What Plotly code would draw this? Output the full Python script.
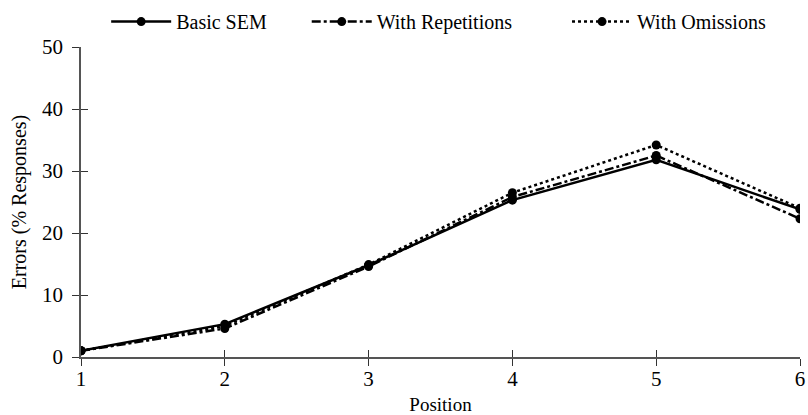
import plotly.graph_objects as go

positions = [1, 2, 3, 4, 5, 6]
basic_sem = [1.0, 5.3, 14.8, 25.3, 31.8, 23.8]
with_repetitions = [1.0, 4.6, 14.6, 25.8, 32.5, 22.3]
with_omissions = [1.0, 5.0, 14.9, 26.5, 34.2, 24.0]
y_ticks = [0, 10, 20, 30, 40, 50]

font_family = "Liberation Serif, Times New Roman, serif"
NBSP = "\u00a0"

fig = go.Figure()
series = [
    ("Basic SEM" + NBSP * 7, basic_sem, "solid"),
    ("With Repetitions" + NBSP * 10, with_repetitions, "dashdot"),
    ("With Omissions", with_omissions, "dot"),
]
for name, values, dash in series:
    fig.add_trace(go.Scatter(
        x=positions, y=values, name=name, mode="lines+markers",
        line=dict(color="black", width=2.5, dash=dash),
        marker=dict(color="black", size=9, symbol="circle"),
    ))

# invisible trace on overlay axes so inner tick marks are drawn
fig.add_trace(go.Scatter(x=[1], y=[0], xaxis="x2", yaxis="y2",
                         mode="markers", marker=dict(opacity=0),
                         showlegend=False, hoverinfo="skip"))

axis_common = dict(showgrid=False, zeroline=False, showline=True,
                   linecolor="#555555", linewidth=1.5, automargin=False,
                   tickcolor="#333333", ticklen=7, tickwidth=1,
                   tickfont=dict(family=font_family, size=21, color="black"))

fig.update_layout(
    width=808, height=415,
    margin=dict(l=81, r=8, t=47, b=58, autoexpand=False),
    paper_bgcolor="white", plot_bgcolor="white",
    font=dict(family=font_family, size=18, color="black"),
    showlegend=True,
    legend=dict(orientation="h", x=0.035, xanchor="left", y=0.995, yanchor="top",
                yref="container", itemwidth=60,
                font=dict(family=font_family, size=20),
                bgcolor="rgba(0,0,0,0)"),
    xaxis=dict(range=[1, 6], tickvals=positions, ticks="outside",
               ticklabelstandoff=-5,
               title=dict(text="Position", standoff=8,
                          font=dict(family=font_family, size=19)),
               **axis_common),
    yaxis=dict(range=[0, 50], tickvals=y_ticks, ticks="outside",
               ticklabelstandoff=5,
               title=dict(text="Errors (% Responses)", standoff=10,
                          font=dict(family=font_family, size=20)),
               **axis_common),
    xaxis2=dict(overlaying="x", range=[1, 6], tickvals=positions, ticks="inside",
                showticklabels=False, showgrid=False, zeroline=False, showline=False,
                tickcolor="#333333", ticklen=7, side="bottom", anchor="y"),
    yaxis2=dict(overlaying="y", range=[0, 50], tickvals=y_ticks, ticks="inside",
                showticklabels=False, showgrid=False, zeroline=False, showline=False,
                tickcolor="#333333", ticklen=7, side="left", anchor="x"),
)

fig.write_html("out.html")
